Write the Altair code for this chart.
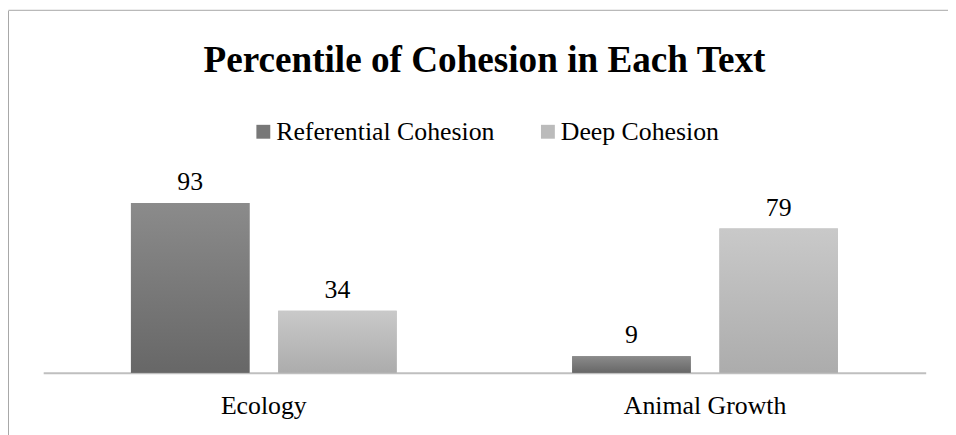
import altair as alt
import pandas as pd

categories = ["Ecology", "Animal Growth"]
series = ["Referential Cohesion", "Deep Cohesion"]
referential = [93, 9]
deep = [34, 79]

rows = []
for i, c in enumerate(categories):
    rows.append({"text": c, "series": series[0], "value": referential[i]})
    rows.append({"text": c, "series": series[1], "value": deep[i]})
df = pd.DataFrame(rows)

FONT = "Liberation Serif, Times New Roman, serif"

grad_ref = alt.LinearGradient(
    gradient="linear",
    stops=[alt.GradientStop(color="#8b8b8b", offset=0), alt.GradientStop(color="#676767", offset=1)],
    x1=0, x2=0, y1=0, y2=1,
)
grad_deep = alt.LinearGradient(
    gradient="linear",
    stops=[alt.GradientStop(color="#c9c9c9", offset=0), alt.GradientStop(color="#acacac", offset=1)],
    x1=0, x2=0, y1=0, y2=1,
)

x_enc = alt.X(
    "text:N",
    sort=categories,
    scale=alt.Scale(domain=categories, paddingInner=0, paddingOuter=0),
    axis=alt.Axis(
        title=None, labelAngle=0, ticks=False, domainColor="#bfbfbf", domainWidth=2,
        labelFont=FONT, labelFontSize=26, labelColor="black", labelPadding=20,
        grid=False,
    ),
)
xo_enc = alt.XOffset(
    "series:N",
    sort=series,
    scale=alt.Scale(domain=series, paddingInner=0.195, paddingOuter=0.596),
)
y_enc = alt.Y("value:Q", scale=alt.Scale(domain=[0, 100]), axis=None)

base = alt.Chart(df)

bars = base.mark_bar().encode(
    x=x_enc, xOffset=xo_enc, y=y_enc,
    color=alt.Color(
        "series:N",
        scale=alt.Scale(domain=series, range=["#787878", "#bbbbbb"]),
        legend=alt.Legend(
            title=None, orient="none", legendX=209, legendY=-72, direction="horizontal",
            symbolType="square", symbolSize=196, symbolStrokeWidth=0,
            labelFont=FONT, labelFontSize=26, labelColor="black", labelOffset=0,
            columnPadding=40, labelLimit=400, padding=0,
        ),
    ),
)

ref_bars = base.transform_filter(alt.datum.series == series[0]).mark_bar(fill=grad_ref).encode(
    x=x_enc, xOffset=xo_enc, y=y_enc
)
deep_bars = base.transform_filter(alt.datum.series == series[1]).mark_bar(fill=grad_deep).encode(
    x=x_enc, xOffset=xo_enc, y=y_enc
)

labels = base.mark_text(dy=-13, font=FONT, fontSize=26, color="black", baseline="alphabetic").encode(
    x=x_enc, xOffset=xo_enc, y=y_enc, text="value:Q"
)

frame_df = pd.DataFrame({"k": [0]})
left_line = alt.Chart(frame_df).mark_rule(color="#a6a6a6", strokeWidth=1).encode(
    x=alt.value(-35), y=alt.value(-181), y2=alt.value(260)
)
top_line = alt.Chart(frame_df).mark_rule(color="#a6a6a6", strokeWidth=1).encode(
    x=alt.value(-35), x2=alt.value(930), y=alt.value(-181.5)
)

chart = alt.layer(bars, ref_bars, deep_bars, labels, left_line, top_line).properties(
    width=890,
    height=184,
    background="white",
    autosize=alt.AutoSizeParams(type="none"),
    padding={"left": 35.5, "top": 182, "right": 22.5, "bottom": 61},
    title=alt.TitleParams(
        "Percentile of Cohesion in Each Text",
        font=FONT, fontSize=37.5, fontWeight="bold", color="black",
        anchor="middle", frame="group", baseline="alphabetic", offset=-100,
    ),
).configure_view(strokeWidth=0, strokeOpacity=0)

chart.save("out.html", embed_options={"renderer": "svg", "actions": False})
